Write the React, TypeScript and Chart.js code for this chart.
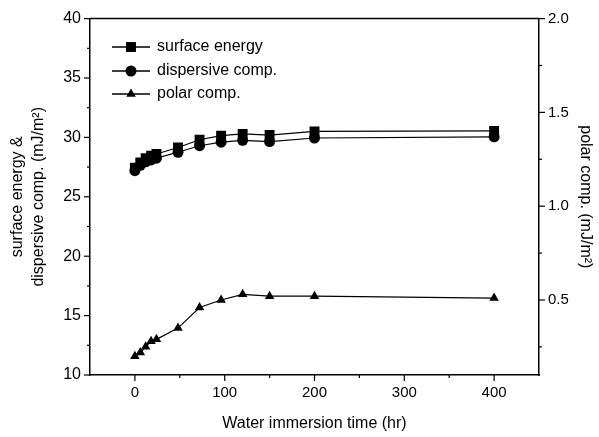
import React, { useEffect, useRef } from "react";
import { Chart, registerables } from "chart.js";

Chart.register(...registerables);

const hours = [0, 6, 12, 18, 24, 48, 72, 96, 120, 150, 200, 400];
const surfaceEnergy = [27.45, 27.9, 28.25, 28.45, 28.6, 29.15, 29.8, 30.15, 30.3, 30.2, 30.5, 30.55];
const dispersive = [27.2, 27.65, 27.95, 28.1, 28.25, 28.75, 29.3, 29.6, 29.75, 29.65, 29.95, 30.05];
const polar = [0.2, 0.22, 0.25, 0.28, 0.29, 0.35, 0.46, 0.5, 0.53, 0.52, 0.52, 0.51];

const seriesNames = ["surface energy", "dispersive comp.", "polar comp."];
const xTicks = [0, 100, 200, 300, 400];
const xMinor = [50, 150, 250, 350];
const leftTicks = [10, 15, 20, 25, 30, 35, 40];
const leftMinor = [12.5, 17.5, 22.5, 27.5, 32.5, 37.5];
const rightTicks = [0.5, 1.0, 1.5, 2.0];
const rightMinor = [0.25, 0.75, 1.25, 1.75];

const FONT = "'Liberation Sans', Arial, sans-serif";

function drawMarker(ctx: CanvasRenderingContext2D, style: string, x: number, y: number, r: number) {
  ctx.beginPath();
  if (style === "rect") {
    const s = r * Math.SQRT1_2;
    ctx.rect(x - s, y - s, 2 * s, 2 * s);
  } else if (style === "circle") {
    ctx.arc(x, y, r, 0, Math.PI * 2);
  } else {
    const h = r * 1.5;
    const w = r * Math.sqrt(3);
    ctx.moveTo(x, y - r);
    ctx.lineTo(x + w / 2, y - r + h);
    ctx.lineTo(x - w / 2, y - r + h);
    ctx.closePath();
  }
  ctx.fill();
}

const framePlugin = {
  id: "frameTicks",
  afterDraw(chart: any) {
    const ctx = chart.ctx as CanvasRenderingContext2D;
    const { left, right, top, bottom } = chart.chartArea;
    const xs = chart.scales.x;
    const yl = chart.scales.y;
    const yr = chart.scales.y1;
    ctx.save();
    ctx.strokeStyle = "#000";
    ctx.lineWidth = 1.5;
    ctx.beginPath();
    ctx.moveTo(left, top);
    ctx.lineTo(right, top);
    ctx.stroke();
    ctx.lineWidth = 1.2;
    const tick = (x1: number, y1: number, x2: number, y2: number) => {
      ctx.beginPath();
      ctx.moveTo(x1, y1);
      ctx.lineTo(x2, y2);
      ctx.stroke();
    };
    xTicks.forEach((v) => { const p = xs.getPixelForValue(v); tick(p, bottom, p, bottom + 6); });
    xMinor.forEach((v) => { const p = xs.getPixelForValue(v); tick(p, bottom, p, bottom + 3); });
    leftTicks.forEach((v) => { const p = yl.getPixelForValue(v); tick(left, p, left - 6, p); });
    leftMinor.forEach((v) => { const p = yl.getPixelForValue(v); tick(left, p, left - 3, p); });
    rightTicks.forEach((v) => { const p = yr.getPixelForValue(v); tick(right, p, right + 6, p); });
    rightMinor.forEach((v) => { const p = yr.getPixelForValue(v); tick(right, p, right + 3, p); });

    // legend
    const rows = [47, 71, 94];
    chart.data.datasets.forEach((ds: any, i: number) => {
      const y = rows[i];
      ctx.lineWidth = 1.5;
      tick(112, y, 150, y);
      ctx.fillStyle = "#000";
      drawMarker(ctx, ds.pointStyle, 131, y, ds.pointRadius);
      ctx.font = `16px ${FONT}`;
      ctx.textBaseline = "middle";
      ctx.textAlign = "left";
      ctx.fillText(ds.label, 157, y);
    });
    ctx.restore();
  },
};

export default function App() {
  const ref = useRef<HTMLCanvasElement | null>(null);
  useEffect(() => {
    if (!ref.current) return;
    const mk = (label: string, data: number[], style: string, r: number, axis: string) => ({
      label,
      data: hours.map((h, i) => ({ x: h, y: data[i] })),
      yAxisID: axis,
      borderColor: "#000",
      backgroundColor: "#000",
      borderWidth: 1.2,
      pointStyle: style,
      pointRadius: r,
      pointBackgroundColor: "#000",
      pointBorderColor: "#000",
      pointBorderWidth: 0,
      showLine: true,
      tension: 0,
    });
    const chart = new Chart(ref.current, {
      type: "scatter",
      data: {
        datasets: [
          mk(seriesNames[0], surfaceEnergy, "rect", 7, "y"),
          mk(seriesNames[1], dispersive, "circle", 5.5, "y"),
          mk(seriesNames[2], polar, "triangle", 5.5, "y1"),
        ] as any,
      },
      options: {
        animation: false,
        responsive: true,
        maintainAspectRatio: false,
        layout: { padding: { top: 16, left: 0, right: 0, bottom: 0 } },
        plugins: { legend: { display: false }, tooltip: { enabled: false } },
        scales: {
          x: {
            type: "linear",
            min: -50,
            max: 450,
            afterBuildTicks: (s: any) => { s.ticks = xTicks.map((v) => ({ value: v })); },
            afterFit: (s: any) => { s.height = 62; },
            grid: { display: false, drawTicks: false },
            border: { display: true, color: "#000", width: 1.5 },
            ticks: { color: "#000", font: { family: FONT, size: 15 }, padding: 9, maxRotation: 0 },
            title: { display: true, text: "Water immersion time (hr)", color: "#000", font: { family: FONT, size: 16 }, padding: { top: 5 } },
          },
          y: {
            type: "linear",
            position: "left",
            min: 10,
            max: 40,
            afterBuildTicks: (s: any) => { s.ticks = leftTicks.map((v) => ({ value: v })); },
            afterFit: (s: any) => { s.width = 90; },
            grid: { display: false, drawTicks: false },
            border: { display: true, color: "#000", width: 1.5 },
            ticks: { color: "#000", font: { family: FONT, size: 16 }, padding: 9 },
            title: { display: true, text: ["surface energy &", "dispersive comp. (mJ/m²)"], color: "#000", font: { family: FONT, size: 16, lineHeight: 1.3 }, padding: { top: 7, bottom: 4 } },
          },
          y1: {
            type: "linear",
            position: "right",
            min: 0.1,
            max: 2.0,
            afterBuildTicks: (s: any) => { s.ticks = rightTicks.map((v) => ({ value: v })); },
            afterFit: (s: any) => { s.width = 60; },
            grid: { display: false, drawTicks: false },
            border: { display: true, color: "#000", width: 1.5 },
            ticks: { color: "#000", font: { family: FONT, size: 15 }, padding: 9, callback: (v: any) => Number(v).toFixed(1) },
            title: { display: true, text: "polar comp. (mJ/m²)", color: "#000", font: { family: FONT, size: 16 }, padding: { top: 4, bottom: 6 } },
          },
        },
      } as any,
      plugins: [framePlugin],
    });
    return () => chart.destroy();
  }, []);
  return (
    <div style={{ position: "fixed", left: 0, top: 0, width: 599, height: 437, background: "#fff" }}>
      <canvas ref={ref} />
    </div>
  );
}
